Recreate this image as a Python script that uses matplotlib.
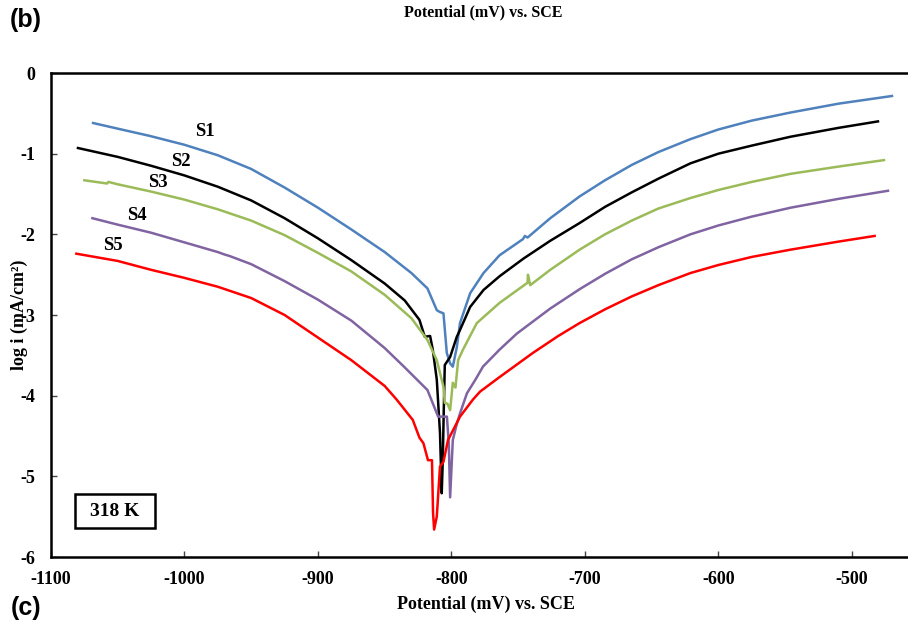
import matplotlib
matplotlib.use("Agg")
import matplotlib.pyplot as plt
from matplotlib.patches import Rectangle

# ---------------- data ----------------
s1_x = [-1068.5, -1050, -1026, -1000, -975, -950, -925, -900, -875, -850, -830, -818, -811, -809,
        -806, -803.5, -801, -799, -796, -793.6, -786, -776, -764, -746.5, -745, -743, -726, -704,
        -685, -665, -645, -621, -600, -575, -546, -510, -470]
s1_y = [-0.62, -0.69, -0.78, -0.89, -1.02, -1.19, -1.42, -1.67, -1.94, -2.22, -2.48, -2.67, -2.94, -2.96,
        -2.98, -3.47, -3.60, -3.64, -3.40, -3.10, -2.73, -2.48, -2.26, -2.06, -2.02, -2.04, -1.80, -1.53,
        -1.33, -1.14, -0.98, -0.82, -0.70, -0.59, -0.49, -0.38, -0.285]

s2_x = [-1079.8, -1050, -1025, -1000, -975, -950, -925, -900, -875, -850, -835, -824, -820, -816,
        -814, -811, -808.6, -807.3, -806.5, -805.8, -805, -801, -796, -794, -786, -776, -764, -746,
        -726, -704, -685, -665, -645, -621, -600, -575, -546, -510, -480.5]
s2_y = [-0.93, -1.04, -1.15, -1.27, -1.41, -1.58, -1.80, -2.05, -2.32, -2.61, -2.82, -3.06, -3.27, -3.26,
        -3.43, -3.80, -4.46, -5.21, -4.80, -4.20, -3.62, -3.52, -3.27, -3.20, -2.90, -2.69, -2.52, -2.30,
        -2.08, -1.86, -1.66, -1.48, -1.31, -1.12, -1.00, -0.90, -0.79, -0.68, -0.60]

s3_x = [-1075, -1058, -1057, -1050, -1025, -1000, -975, -950, -925, -900, -875, -850, -830, -818,
        -811, -806, -805, -803, -801, -799, -797, -795, -791.4, -781, -764, -743, -742.7, -741, -726,
        -704, -685, -665, -645, -621, -600, -575, -546, -510, -476]
s3_y = [-1.33, -1.37, -1.35, -1.38, -1.47, -1.57, -1.69, -1.83, -2.01, -2.23, -2.46, -2.75, -3.04, -3.31,
        -3.56, -3.89, -4.09, -4.10, -4.18, -3.84, -3.90, -3.56, -3.43, -3.10, -2.85, -2.60, -2.50, -2.63, -2.44,
        -2.19, -2.00, -1.83, -1.68, -1.55, -1.45, -1.35, -1.25, -1.16, -1.08]

s4_x = [-1069, -1050, -1025, -1000, -975, -970, -966, -950, -925, -900, -875, -850, -835, -818,
        -810, -803.4, -802, -801, -799, -796, -793.6, -788.4, -782, -776.4, -764, -751, -726, -704,
        -685, -665, -645, -621, -600, -575, -546, -510, -473]
s4_y = [-1.80, -1.88, -1.98, -2.10, -2.22, -2.25, -2.27, -2.37, -2.58, -2.81, -3.07, -3.41, -3.65, -3.93,
        -4.26, -4.26, -4.60, -5.26, -4.55, -4.35, -4.22, -3.97, -3.80, -3.64, -3.43, -3.23, -2.92, -2.68,
        -2.49, -2.31, -2.16, -2.00, -1.89, -1.78, -1.67, -1.56, -1.46]

s5_x = [-1081, -1050, -1025, -1000, -975, -950, -925, -900, -875, -850, -841, -829, -824, -821,
        -817.6, -814.6, -813.8, -813, -811, -808.6, -806, -802.6, -793.6, -784, -778.6, -764, -739,
        -720, -704, -685, -665, -645, -621, -600, -575, -546, -510, -483]
s5_y = [-2.24, -2.33, -2.44, -2.54, -2.65, -2.79, -3.00, -3.28, -3.56, -3.88, -4.05, -4.30, -4.52, -4.59,
        -4.80, -4.80, -5.45, -5.66, -5.50, -4.88, -4.82, -4.55, -4.26, -4.05, -3.95, -3.77, -3.47,
        -3.26, -3.10, -2.93, -2.77, -2.63, -2.48, -2.38, -2.28, -2.19, -2.09, -2.02]

series_names = ["S1", "S2", "S3", "S4", "S5"]
series_colors = ["#4F81BD", "#000000", "#9BBB59", "#8064A2", "#FF0000"]
label_x = [-984.6, -1002.6, -1019.9, -1035.6, -1053.6]
label_y = [-0.73, -1.10, -1.36, -1.77, -2.14]

x_ticks = [-1100, -1000, -900, -800, -700, -600, -500]
y_ticks = [0, -1, -2, -3, -4, -5, -6]

# ---------------- figure ----------------
serif = ["Liberation Serif", "DejaVu Serif"]
sans = ["Liberation Sans", "DejaVu Sans"]

fig = plt.figure(figsize=(9.08, 6.24), dpi=100)
ax = fig.add_axes([51 / 908, 1 - 557 / 624, 857 / 908, 484 / 624])

xs = [s1_x, s2_x, s3_x, s4_x, s5_x]
ys = [s1_y, s2_y, s3_y, s4_y, s5_y]
for x, y, c in zip(xs, ys, series_colors):
    ax.plot(x, y, color=c, lw=1.8, solid_joinstyle="round")

for name, lx, ly in zip(series_names, label_x, label_y):
    ax.text(lx, ly, name, fontsize=13.5, fontweight="bold", family=serif,
            ha="center", va="center")

ax.set_xlim(-1100, -458)
ax.set_ylim(-6, 0)
ax.set_xticks(x_ticks)
ax.set_yticks(y_ticks)
ax.set_xticklabels([str(v) for v in x_ticks])
ax.set_yticklabels([str(v) for v in y_ticks])
for lab in ax.get_xticklabels() + ax.get_yticklabels():
    lab.set_family(serif)
    lab.set_fontweight("bold")
    lab.set_fontsize(13)
ax.tick_params(axis="both", direction="in", length=4, width=1, color="#444444")
ax.tick_params(axis="x", pad=10)
ax.tick_params(axis="y", pad=11)

ax.spines["right"].set_visible(False)
for s in ["left", "bottom", "top"]:
    ax.spines[s].set_linewidth(1.8)

ax.set_xlabel("Potential (mV) vs. SCE", fontsize=13, fontweight="bold", family=serif)
ax.xaxis.set_label_coords((486 - 51) / 857, -(596 - 557) / 484)
ax.set_ylabel("log i (mA/cm²)", fontsize=13, fontweight="bold", family=serif)
ax.yaxis.set_label_coords(-(51 - 28) / 857, (557 - 315) / 484)

# temperature box
ax.add_patch(Rectangle((0.028, 0.0599), 0.0934, 0.0702, transform=ax.transAxes,
                       fill=False, lw=1.8, edgecolor="black"))
ax.text(0.0747, 0.095, "318 K", transform=ax.transAxes, fontsize=14, fontweight="bold",
        family=serif, ha="center", va="center")

# panel texts outside the axes
fig.text(26 / 908, 1 - 20 / 624, "(b)", fontsize=18, fontweight="bold", family=sans,
         ha="center", va="center")
fig.text(26 / 908, 1 - 608 / 624, "(c)", fontsize=18, fontweight="bold", family=sans,
         ha="center", va="center")
fig.text(483 / 908, 1 - 12 / 624, "Potential (mV) vs. SCE", fontsize=11.5, fontweight="bold",
         family=serif, ha="center", va="center")

fig.savefig("out.png", dpi=100)
